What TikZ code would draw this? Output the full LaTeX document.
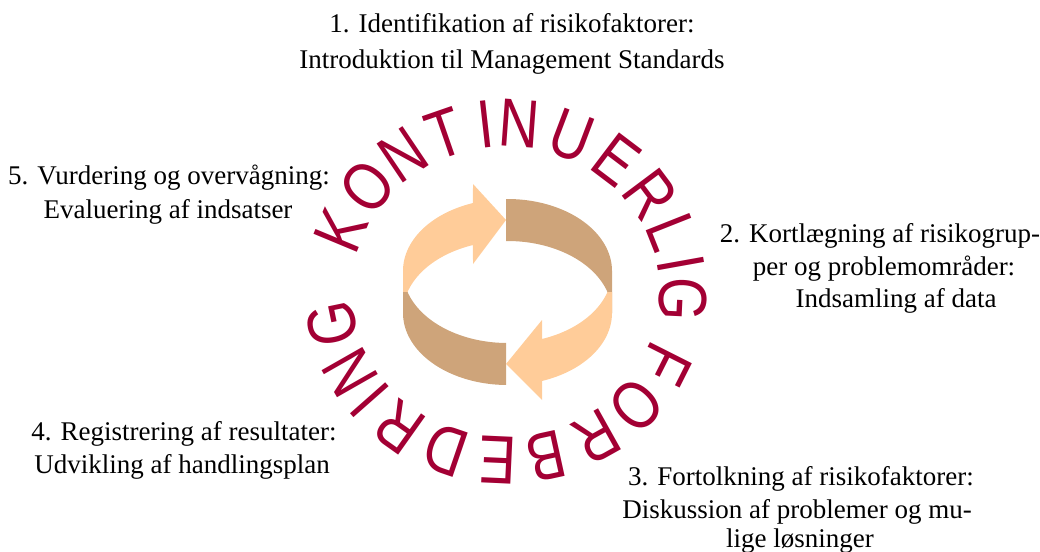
\documentclass[tikz,border=0pt]{standalone}
\usepackage{fontspec}
\setmainfont{Liberation Serif}
\newfontfamily\wafont{Liberation Sans}
\definecolor{wared}{RGB}{163,0,52}
\definecolor{arrowlight}{RGB}{255,204,153}
\definecolor{arrowdark}{RGB}{206,164,122}
\begin{document}
\begin{tikzpicture}[x=1pt,y=-1pt,
  lbl/.style={anchor=base, inner sep=0pt, font=\fontsize{27}{34}\selectfont},
  ltr/.style={anchor=base, inner sep=0pt, text=wared, font=\wafont\fontsize{62}{62}\selectfont},
  lightpart/.style={fill=arrowlight, draw=none},
  darkpart/.style={fill=arrowdark, draw=none}]
\useasboundingbox (0,0) rectangle (1040,551);

% back wall: upper-left light arrow
\fill[lightpart] plot[domain=180:109.3,samples=60,variable=\t] ({507.5+104.5*cos(\t)},{271-72*sin(\t)})
  -- (473,184) -- (506,220) -- (473,264)
  -- plot[domain=109.3:180,samples=60,variable=\t] ({507.5+104.5*cos(\t)},{313-72*sin(\t)}) -- cycle;
% back wall: upper-right dark band
\fill[darkpart] plot[domain=90.8:0,samples=60,variable=\t] ({507.5+104.5*cos(\t)},{271-72*sin(\t)})
  -- plot[domain=0:90.8,samples=60,variable=\t] ({507.5+104.5*cos(\t)},{313-72*sin(\t)}) -- cycle;
% front wall: lower-left dark band
\fill[darkpart] plot[domain=196.96:269.2,samples=60,variable=\t] ({507.5+104.5*cos(\t)},{271-72*sin(\t)})
  -- plot[domain=269.2:180,samples=60,variable=\t] ({507.5+104.5*cos(\t)},{313-72*sin(\t)})
  -- (403,292) -- cycle;
% front wall: lower-right light arrow
\fill[lightpart] (612,292)
  -- plot[domain=343.04:289.3,samples=60,variable=\t] ({507.5+104.5*cos(\t)},{271-72*sin(\t)})
  -- (542,320) -- (506,364) -- (542,400)
  -- plot[domain=289.3:360,samples=60,variable=\t] ({507.5+104.5*cos(\t)},{313-72*sin(\t)}) -- cycle;

% circular text
\foreach \L/\a [count=\i] in {K/158.6, O/141.6, N/125.6, T/110.2, I/96.8, N/85.5, U/68.1, E/51.2, R/35.2, L/20.5, I/9.6, G/-2.5,
  F/-25.4, O/-42.3, R/-59.3, B/-76.9, E/-92.8, D/-110, R/-127, I/-140.3, N/-151.8, G/-169}{
  \node[ltr, rotate={atan2(154*sin(\a),145*cos(\a))-90}, xscale=0.9, yscale=1.1] (w\i) at ({506+154*cos(\a)},{292-145*sin(\a)}) {\L};
}

% labels
\node[lbl] (t1a) at (512,33) {1. Identifikation af risikofaktorer:};
\node[lbl] (t1b) at (512,68) {Introduktion til Management Standards};
\node[lbl] (t2a) at (880,242) {2. Kortlægning af risikogrup-};
\node[lbl] (t2b) at (884,275) {per og problemområder:};
\node[lbl] (t2c) at (896,307) {Indsamling af data};
\node[lbl] (t3a) at (801,485) {3. Fortolkning af risikofaktorer:};
\node[lbl] (t3b) at (797,518) {Diskussion af problemer og mu-};
\node[lbl] (t3c) at (800,547) {lige løsninger};
\node[lbl] (t4a) at (184,440) {4. Registrering af resultater:};
\node[lbl] (t4b) at (182,473) {Udvikling af handlingsplan};
\node[lbl] (t5a) at (169,184) {5. Vurdering og overvågning:};
\node[lbl] (t5b) at (168,218) {Evaluering af indsatser};
\end{tikzpicture}
\end{document}
